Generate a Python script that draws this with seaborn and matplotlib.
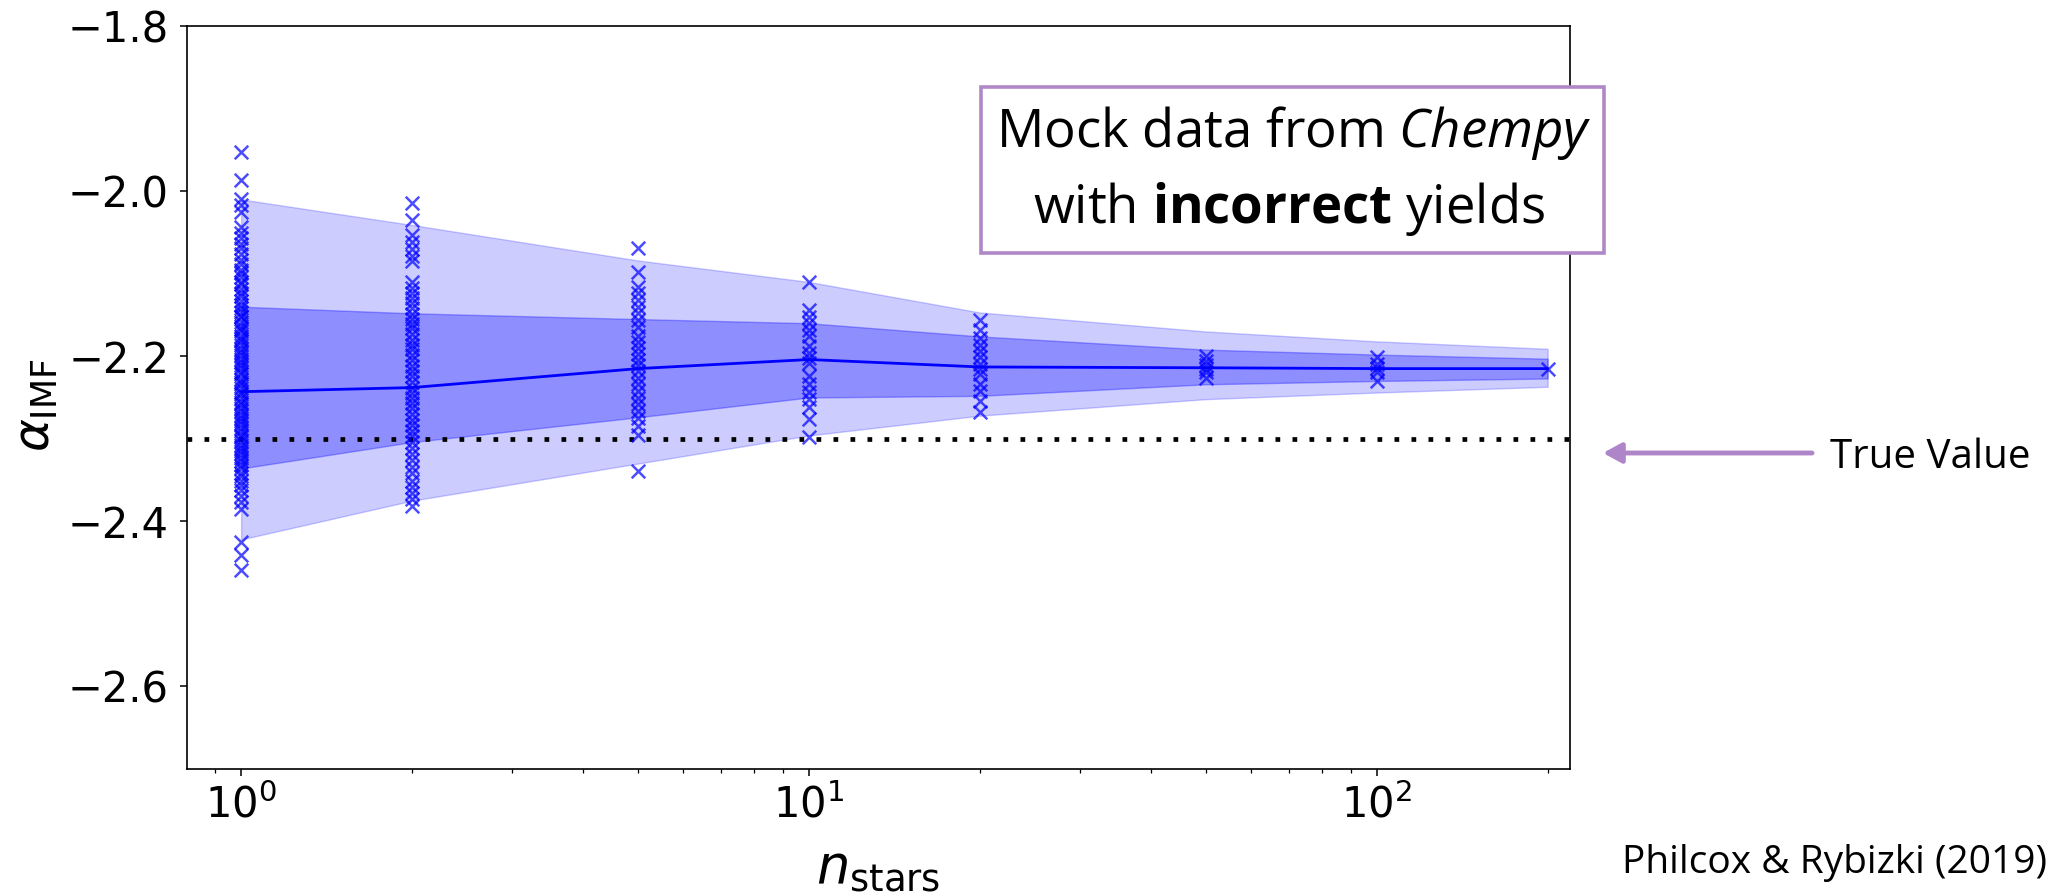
import matplotlib
matplotlib.use("Agg")
import matplotlib.pyplot as plt
import numpy as np
import pandas as pd
import seaborn as sns
from matplotlib.patches import Rectangle, FancyArrowPatch

# ---------------- data ----------------
N_STARS = [1, 2, 5, 10, 20, 50, 100, 200]
MEDIAN = [-2.243, -2.238, -2.215, -2.204, -2.213, -2.214, -2.215, -2.215]
INNER_HI = [-2.140, -2.148, -2.155, -2.160, -2.176, -2.192, -2.198, -2.203]
INNER_LO = [-2.336, -2.304, -2.274, -2.250, -2.248, -2.234, -2.230, -2.227]
OUTER_HI = [-2.010, -2.041, -2.084, -2.110, -2.147, -2.170, -2.182, -2.191]
OUTER_LO = [-2.422, -2.375, -2.330, -2.296, -2.272, -2.252, -2.244, -2.237]
TRUE_VALUE = -2.3

SAMPLES_1 = [-1.953, -1.987, -2.009, -2.017, -2.025, -2.043, -2.051, -2.057,
             -2.064, -2.069, -2.076, -2.083, -2.088, -2.095, -2.099, -2.104,
             -2.110, -2.113, -2.119, -2.124, -2.127, -2.133, -2.138, -2.141,
             -2.146, -2.151, -2.153, -2.158, -2.163, -2.167, -2.170, -2.175,
             -2.179, -2.182, -2.187, -2.191, -2.195, -2.198, -2.203, -2.207,
             -2.211, -2.214, -2.219, -2.222, -2.227, -2.231, -2.234, -2.239,
             -2.243, -2.246, -2.251, -2.255, -2.258, -2.263, -2.266, -2.271,
             -2.275, -2.279, -2.282, -2.287, -2.291, -2.295, -2.298, -2.303,
             -2.307, -2.311, -2.315, -2.318, -2.323, -2.327, -2.332, -2.336,
             -2.341, -2.345, -2.351, -2.356, -2.362, -2.369, -2.377, -2.385,
             -2.425, -2.441, -2.459]
SAMPLES_2 = [-2.015, -2.035, -2.053, -2.062, -2.070, -2.078, -2.085, -2.110,
             -2.117, -2.123, -2.130, -2.136, -2.141, -2.149, -2.155, -2.161,
             -2.166, -2.173, -2.180, -2.186, -2.191, -2.198, -2.205, -2.212,
             -2.218, -2.224, -2.231, -2.238, -2.244, -2.250, -2.257, -2.263,
             -2.270, -2.277, -2.283, -2.290, -2.297, -2.304, -2.311, -2.318,
             -2.326, -2.334, -2.342, -2.351, -2.359, -2.366, -2.373, -2.381]
SAMPLES_5 = [-2.069, -2.098, -2.116, -2.124, -2.132, -2.140, -2.148, -2.156,
             -2.164, -2.176, -2.183, -2.190, -2.197, -2.204, -2.211, -2.218,
             -2.226, -2.234, -2.242, -2.250, -2.258, -2.266, -2.275, -2.284,
             -2.296, -2.339]
SAMPLES_10 = [-2.110, -2.144, -2.153, -2.160, -2.168, -2.176, -2.188, -2.196,
              -2.202, -2.208, -2.224, -2.234, -2.243, -2.252, -2.262, -2.276,
              -2.298]
SAMPLES_20 = [-2.156, -2.168, -2.178, -2.186, -2.194, -2.201, -2.209, -2.216,
              -2.222, -2.234, -2.242, -2.254, -2.268]
SAMPLES_50 = [-2.200, -2.206, -2.211, -2.215, -2.219, -2.226]
SAMPLES_100 = [-2.201, -2.209, -2.214, -2.219, -2.230]
SAMPLES_200 = [-2.215]

BOX_LINE1 = r"Mock data from $\mathit{Chempy}$"
BOX_LINE2 = r"with $\mathbf{incorrect}$ yields"
ARROW_TEXT = "True Value"
CITATION = "Philcox & Rybizki (2019)"

# ---------------- style ----------------
sns.set_style("ticks", rc={"axes.edgecolor": "black", "xtick.color": "black",
                           "ytick.color": "black", "text.color": "black",
                           "axes.labelcolor": "black"})
plt.rcParams["font.family"] = ["DejaVu Sans"]
plt.rcParams["mathtext.fontset"] = "dejavusans"
plt.rcParams["mathtext.rm"] = "Open Sans"
plt.rcParams["mathtext.it"] = "Open Sans:italic"
plt.rcParams["mathtext.bf"] = "Open Sans:bold"

W, H = 2063, 892
fig = plt.figure(figsize=(W / 100, H / 100), dpi=100)
ax = fig.add_axes([187 / W, 1 - 769 / H, (1570 - 187) / W, (769 - 26) / H])

samples = {1: SAMPLES_1, 2: SAMPLES_2, 5: SAMPLES_5, 10: SAMPLES_10,
           20: SAMPLES_20, 50: SAMPLES_50, 100: SAMPLES_100, 200: SAMPLES_200}
df_pts = pd.DataFrame([(k, v) for k, vals in samples.items() for v in vals],
                      columns=["n", "alpha"])
df_med = pd.DataFrame({"n": N_STARS, "alpha": MEDIAN})

ax.fill_between(N_STARS, OUTER_LO, OUTER_HI, color="blue", alpha=0.2, zorder=1)
ax.fill_between(N_STARS, INNER_LO, INNER_HI, color="blue", alpha=0.3, zorder=1.5)
ax.axhline(TRUE_VALUE, color="black", lw=3.4, ls=(0, (1, 2.6)), zorder=2)
sns.lineplot(data=df_med, x="n", y="alpha", color="blue", lw=2.0, ax=ax, zorder=3)
sns.scatterplot(data=df_pts, x="n", y="alpha", marker="x", color="blue", s=95,
                linewidth=1.8, alpha=0.7, ax=ax, zorder=4)

ax.set_xscale("log")
ax.set_xlim(0.803, 219)
ax.set_ylim(-2.7, -1.8)
ax.set_yticks([-2.6, -2.4, -2.2, -2.0, -1.8])
ax.tick_params(axis="both", which="major", labelsize=30, length=5, width=1.1,
               direction="out", pad=8)
ax.tick_params(axis="x", which="minor", length=3, width=0.9, direction="out")
ax.tick_params(axis="x", which="major", pad=6)
for sp in ax.spines.values():
    sp.set_linewidth(1.2)
    sp.set_color("black")

ax.set_xlabel(r"$n_{\rm stars}$", fontsize=38, math_fontfamily="dejavusans")
ax.set_ylabel(r"$\alpha_{\rm IMF}$", fontsize=36, math_fontfamily="dejavusans")
ax.xaxis.set_label_coords(0.5, -0.098)
ax.yaxis.set_label_coords(-0.092, 0.49)

# ---------------- slide annotations ----------------
purple = "#B087C7"
fig.add_artist(Rectangle((981 / W, 1 - 253 / H), 623 / W, 166 / H,
                         transform=fig.transFigure, facecolor="white",
                         edgecolor=purple, lw=2.6, zorder=5))
fig.text(1294 / W, 1 - 147 / H, BOX_LINE1, ha="center", va="baseline",
         fontsize=38, family="Open Sans", math_fontfamily="custom", zorder=6)
fig.text(1289 / W, 1 - 223 / H, BOX_LINE2, ha="center", va="baseline",
         fontsize=38, family="Open Sans", math_fontfamily="custom", zorder=6)

fig.add_artist(FancyArrowPatch((1812 / W, 1 - 453 / H), (1603 / W, 1 - 453 / H),
                               transform=fig.transFigure,
                               arrowstyle="-|>,head_length=0.55,head_width=0.3",
                               mutation_scale=20, color="#AE85C8", lw=3.5,
                               shrinkA=0, shrinkB=0))
fig.text(1830 / W, 1 - 468 / H, ARROW_TEXT, ha="left", va="baseline",
         fontsize=29, family="Open Sans")
fig.text(1622 / W, 1 - 873 / H, CITATION, ha="left", va="baseline",
         fontsize=28, family="Open Sans")

fig.savefig("out.png", dpi=100)
